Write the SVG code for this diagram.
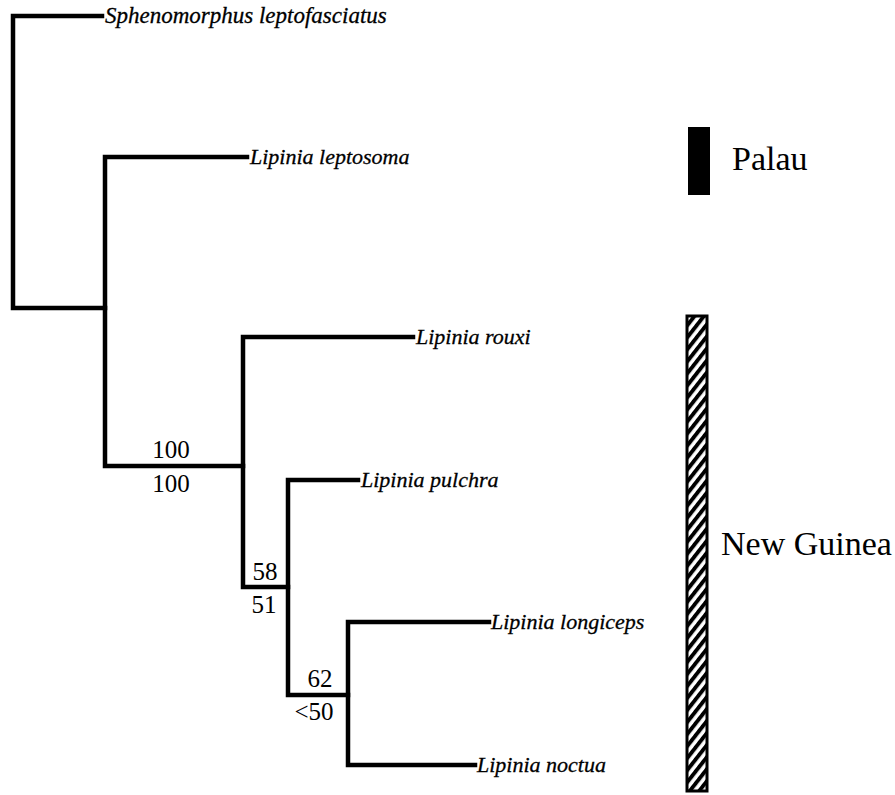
<svg xmlns="http://www.w3.org/2000/svg" width="895" height="795" viewBox="0 0 895 795">
<defs>
<pattern id="hatch" patternUnits="userSpaceOnUse" width="7.4" height="7.4" patternTransform="rotate(-52)">
<rect x="0" y="0" width="7.4" height="7.4" fill="#fff"/>
<rect x="0" y="0" width="7.4" height="3.9" fill="#000"/>
</pattern>
<style>
.br{stroke:#000;stroke-width:4.5;fill:none;stroke-linecap:square}
.sp{font-family:'Liberation Serif','DejaVu Serif',serif;font-style:italic;font-size:22px;fill:#000;stroke:#000;stroke-width:0.3}
.bs{font-family:'Liberation Serif','DejaVu Serif',serif;font-size:25px;fill:#000;text-anchor:middle}
.rg{font-family:'Liberation Serif','DejaVu Serif',serif;font-size:34px;fill:#000}
</style>
</defs>
<rect width="895" height="795" fill="#fff"/>
<g id="connectors">
<path class="br" d="M102,16 H13 V308 H105"/>
<path class="br" d="M247,157 H105 V466 H243"/>
<path class="br" d="M413,337 H243 V587 H288"/>
<path class="br" d="M358,480 H288 V695 H348"/>
<path class="br" d="M489,622 H348 V765 H475"/>
</g>
<g id="sphenomorphus"><text class="sp" x="105" y="23" style="font-size:23px">Sphenomorphus leptofasciatus</text></g>
<g id="leptosoma"><text class="sp" x="250" y="164">Lipinia leptosoma</text></g>
<g id="rouxi"><text class="sp" x="416" y="344">Lipinia rouxi</text></g>
<g id="pulchra"><text class="sp" x="361" y="487">Lipinia pulchra</text></g>
<g id="longiceps"><text class="sp" x="491" y="629">Lipinia longiceps</text></g>
<g id="noctua"><text class="sp" x="477" y="772">Lipinia noctua</text></g>
<g id="support1"><text class="bs" x="171" y="458">100</text><text class="bs" x="171" y="492">100</text></g>
<g id="support2"><text class="bs" x="265" y="580">58</text><text class="bs" x="264" y="613">51</text></g>
<g id="support3"><text class="bs" x="320" y="687">62</text><text class="bs" x="314" y="720">&lt;50</text></g>
<g id="palau">
<rect x="688" y="127" width="22" height="68" fill="#000"/>
<text class="rg" x="732" y="170">Palau</text>
</g>
<g id="newguinea">
<rect x="687" y="316" width="20" height="475" fill="url(#hatch)" stroke="#000" stroke-width="3"/>
<text class="rg" x="721" y="555">New Guinea</text>
</g>
</svg>
